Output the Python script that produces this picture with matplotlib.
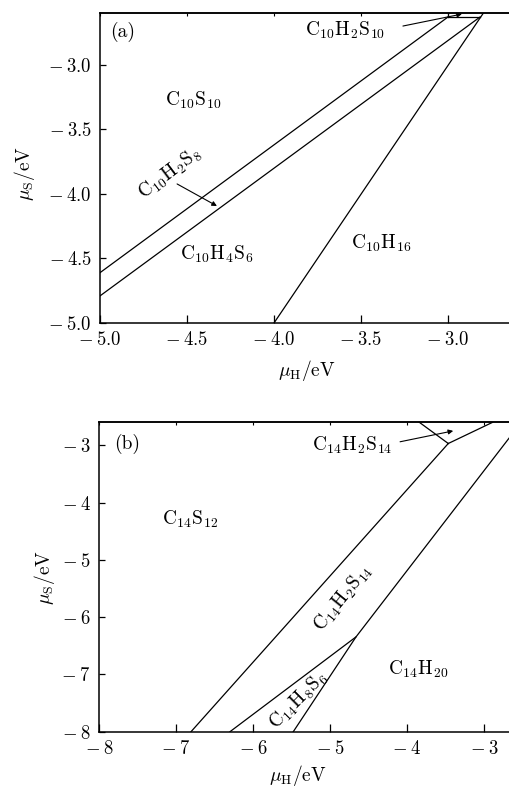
import matplotlib
matplotlib.use('Agg')
import matplotlib.pyplot as plt

plt.rcParams['font.family'] = 'serif'
plt.rcParams['font.serif'] = ['cmr10']
plt.rcParams['mathtext.fontset'] = 'cm'
plt.rcParams['axes.formatter.use_mathtext'] = True

# panel (a): phase boundaries, each as (mu_H list, mu_S list)
a_lines = [
    ([-5.0, -3.0], [-4.61, -2.628]),
    ([-3.0, -3.0], [-2.628, -2.59]),
    ([-3.0, -2.816], [-2.628, -2.628]),
    ([-5.0, -2.816], [-4.79, -2.628]),
    ([-4.0, -2.793], [-5.0, -2.59]),
]
a_labels = [
    ('(a)', -4.87, -2.74, 0),
    (r'$\mathrm{C_{10}H_2S_{10}}$', -3.59, -2.73, 0),
    (r'$\mathrm{C_{10}S_{10}}$', -4.465, -3.27, 0),
    (r'$\mathrm{C_{10}H_2S_8}$', -4.60, -3.84, 37),
    (r'$\mathrm{C_{10}H_4S_6}$', -4.33, -4.47, 0),
    (r'$\mathrm{C_{10}H_{16}}$', -3.385, -4.38, 0),
]
a_arrows = [
    ((-3.259, -2.698), (-2.92, -2.605)),
    ((-4.557, -3.922), (-4.328, -4.093)),
]

# panel (b)
b_lines = [
    ([-6.805, -3.464], [-8.0, -2.97]),
    ([-3.464, -3.84], [-2.97, -2.6]),
    ([-3.464, -2.888], [-2.97, -2.6]),
    ([-5.477, -4.662, -2.516], [-8.0, -6.345, -2.6]),
    ([-6.299, -4.662], [-8.0, -6.345]),
]
b_labels = [
    ('(b)', -7.64, -2.97, 0),
    (r'$\mathrm{C_{14}H_2S_{14}}$', -4.71, -3.0, 0),
    (r'$\mathrm{C_{14}S_{12}}$', -6.81, -4.30, 0),
    (r'$\mathrm{C_{14}H_2S_{14}}$', -4.83, -5.675, 51),
    (r'$\mathrm{C_{14}H_8S_6}$', -5.41, -7.45, 45),
    (r'$\mathrm{C_{14}H_{20}}$', -3.86, -6.91, 0),
]
b_arrows = [
    ((-4.09, -2.94), (-3.40, -2.75)),
]

W, H = 510, 789
fig = plt.figure(figsize=(W / 100, H / 100), dpi=100)

def px_axes(left, top, width, height):
    return fig.add_axes([left / W, 1 - (top + height) / H, width / W, height / H])

ax1 = px_axes(100, 13.4, 435, 309.6)
ax2 = px_axes(99, 422.3, 423.5, 309.4)

def tick_text(v, fmt):
    s = fmt % abs(v)
    return r'$-\:' + s + '$' if v < 0 else '$' + s + '$'

panels = [
    (ax1, a_lines, a_labels, a_arrows, (-5.0, -2.5), (-5.0, -2.6),
     [-5.0, -4.5, -4.0, -3.5, -3.0], [-5.0, -4.5, -4.0, -3.5, -3.0], '%.1f'),
    (ax2, b_lines, b_labels, b_arrows, (-8.0, -2.5), (-8.0, -2.6),
     [-8, -7, -6, -5, -4, -3], [-8, -7, -6, -5, -4, -3], '%d'),
]

for ax, lines, labels, arrows, xl, yl, xt, yt, fmt in panels:
    for xs, ys in lines:
        ax.plot(xs, ys, color='black', lw=0.9, solid_joinstyle='miter')
    for s, x, y, r in labels:
        ax.text(x, y, s, fontsize=14, rotation=r, ha='center', va='center',
                rotation_mode='anchor')
    for (x0, y0), (x1, y1) in arrows:
        ax.annotate('', xy=(x1, y1), xytext=(x0, y0),
                    arrowprops=dict(arrowstyle='-|>', color='black', lw=0.8,
                                    mutation_scale=7, shrinkA=0, shrinkB=0))
    ax.set_xlim(*xl)
    ax.set_ylim(*yl)
    ax.set_xticks(xt)
    ax.set_yticks(yt)
    ax.set_xticklabels([tick_text(v, fmt) for v in xt])
    ax.set_yticklabels([tick_text(v, fmt) for v in yt])
    ax.tick_params(axis='x', direction='in', length=6, width=0.9, labelsize=13.5,
                   pad=6)
    ax.tick_params(axis='y', direction='in', length=4, width=0.9, labelsize=13.5,
                   pad=6)
    top = ax.secondary_xaxis('top')
    top.set_xticks(xt)
    top.tick_params(direction='in', length=2.5, width=0.8, labeltop=False)
    top.spines['top'].set_linewidth(1.1)
    for sp in ax.spines.values():
        sp.set_linewidth(1.1)
    ax.set_xlabel(r'$\mu_{\mathrm{H}}/\mathrm{eV}$', fontsize=14)
    ax.set_ylabel(r'$\mu_{\mathrm{S}}/\mathrm{eV}$', fontsize=14)
    ax.xaxis.label.set_va('center')
    ax.yaxis.label.set_va('center')

ax1.xaxis.set_label_coords((307 - 100) / 435, -0.152)
ax2.xaxis.set_label_coords((298 - 99) / 423.5, -0.143)
ax1.yaxis.set_label_coords((25 - 100) / 435, 0.484)
ax2.yaxis.set_label_coords((45 - 99) / 423.5, 0.497)

fig.savefig('out.png', dpi=100)
